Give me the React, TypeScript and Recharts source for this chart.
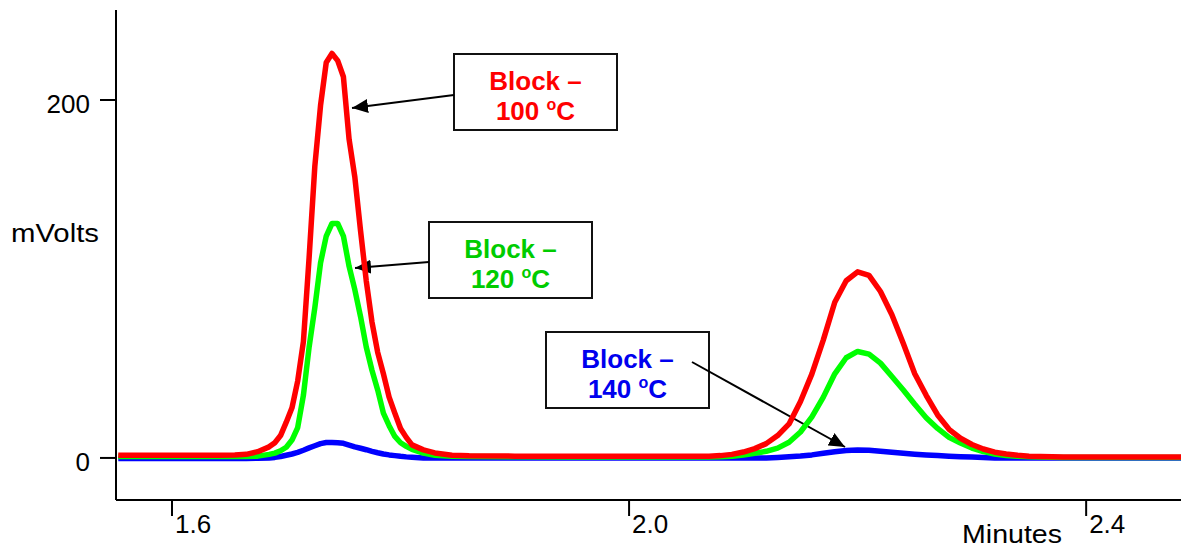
import React from "react";
import { LineChart, Line, XAxis, YAxis, Customized } from "recharts";

// retention time (minutes)
const times = [
  1.553, 1.58, 1.61, 1.64, 1.655, 1.665, 1.675, 1.685, 1.69, 1.695, 1.7, 1.705,
  1.71, 1.715, 1.72, 1.725, 1.73, 1.735, 1.74, 1.745, 1.75, 1.755, 1.76, 1.765,
  1.77, 1.775, 1.78, 1.785, 1.79, 1.795, 1.8, 1.805, 1.81, 1.82, 1.83, 1.845,
  1.86, 1.9, 1.95, 2.0, 2.04, 2.07, 2.08, 2.09, 2.1, 2.11, 2.12, 2.13, 2.14,
  2.15, 2.16, 2.17, 2.18, 2.19, 2.2, 2.21, 2.22, 2.23, 2.24, 2.25, 2.26, 2.27,
  2.28, 2.29, 2.3, 2.31, 2.32, 2.33, 2.34, 2.35, 2.36, 2.38, 2.42, 2.46, 2.483,
];

// Block – 100 ºC
const block100 = [
  1.5, 1.5, 1.5, 1.5, 1.6, 2, 3.5, 6.2, 8.5, 12.5, 20, 28,
  43, 65, 112, 163, 197, 221, 226, 222, 213, 178, 157, 127,
  99, 76, 59, 47, 34, 25, 16.5, 11.5, 7.3, 4.5, 2.8, 1.5,
  1.2, 1, 0.9, 0.9, 0.9, 1, 1.3, 2, 3.3, 5.2, 8, 12.5, 19,
  31.5, 47, 66, 87, 99, 104, 102, 93, 80, 64, 47, 35, 24,
  16, 11, 7.5, 5, 3.2, 2.2, 1.5, 1, 0.8, 0.5, 0.5, 0.5, 0.5,
];

// Block – 120 ºC
const block120 = [
  0.8, 0.8, 0.8, 0.8, 0.8, 0.8, 1, 2, 2.7, 4, 6, 10,
  17, 35, 62, 84, 109, 124, 131, 131, 124, 107, 94, 79,
  62, 49, 38, 25, 18, 12, 8.5, 6.5, 4.8, 2.7, 1.5, 1,
  0.8, 0.6, 0.5, 0.5, 0.5, 0.5, 0.6, 0.9, 1.6, 2.6, 3.7, 5.5, 8.8,
  14.5, 23, 34, 47, 56, 59.5, 58, 53, 45.5, 38, 30, 22.5, 16.5,
  11.5, 8.3, 5.5, 3.5, 2.2, 1.4, 0.9, 0.6, 0.5, 0.3, 0.3, 0.3, 0.3,
];

// Block – 140 ºC
const block140 = [
  -0.3, -0.3, -0.3, -0.3, -0.3, -0.3, -0.2, 0, 0.3, 0.8, 1.5, 2.2,
  3.1, 4.3, 5.6, 6.8, 8, 8.6, 8.6, 8.5, 8.2, 7.2, 6.2, 5.4,
  4.6, 3.7, 2.9, 2.2, 1.7, 1.3, 0.9, 0.6, 0.4, 0, 0, 0,
  0, 0, 0, 0, 0, 0, 0, 0, 0, 0, 0, 0.3, 0.7,
  1.1, 1.7, 2.6, 3.5, 4.1, 4.5, 4.3, 3.8, 3.2, 2.6, 2.1, 1.7, 1.3,
  1, 0.7, 0.5, 0.3, 0, 0, 0, 0, 0, 0, 0, 0, 0,
];

const xTicks = [1.6, 2.0, 2.4];
const yTicks = [0, 200];

const rows = times.map((t, i) => ({
  t,
  b100: block100[i],
  b120: block120[i],
  b140: block140[i],
}));

const FONT = "Arial, 'Liberation Sans', sans-serif";

const XTick = (props: any) => {
  const { x, y, payload } = props;
  return (
    <text x={x + 3} y={y + 15} fontFamily={FONT} fontSize={26} fill="#000">
      {payload.value.toFixed(1)}
    </text>
  );
};

const YTick = (props: any) => {
  const { x, y, payload } = props;
  return (
    <text x={x - 8} y={y + 13} fontFamily={FONT} fontSize={26} fill="#000" textAnchor="end">
      {payload.value}
    </text>
  );
};

const Box = ({ x, y, temp, color }: { x: number; y: number; temp: string; color: string }) => {
  const cx = x + 81.5;
  return (
    <g>
      <rect x={x} y={y} width={163} height={76} fill="#fff" stroke="#111" strokeWidth={2} />
      <text x={cx} y={y + 36} textAnchor="middle" fontFamily={FONT} fontWeight="bold" fontSize={26} fill={color}>
        Block –
      </text>
      <text x={cx} y={y + 66} textAnchor="middle" fontFamily={FONT} fontWeight="bold" fontSize={26} fill={color}>
        <tspan>{temp} </tspan>
        <tspan fontSize={16} dy={-10}>o</tspan>
        <tspan dy={10}>C</tspan>
      </text>
    </g>
  );
};

const Annotations = () => (
  <g>
    <defs>
      <marker id="head" markerUnits="userSpaceOnUse" markerWidth={16} markerHeight={14} refX={16} refY={7} orient="auto">
        <path d="M0,0 L16,7 L0,14 z" fill="#000" />
      </marker>
    </defs>
    <text x={11} y={242} fontFamily={FONT} fontSize={25} fill="#000" textLength={88} lengthAdjust="spacingAndGlyphs">
      mVolts
    </text>
    <text x={962} y={543} fontFamily={FONT} fontSize={25} fill="#000" textLength={100} lengthAdjust="spacingAndGlyphs">
      Minutes
    </text>
    <Box x={454} y={54} temp="100" color="#ff0000" />
    <Box x={429} y={222} temp="120" color="#00cc00" />
    <Box x={546} y={332} temp="140" color="#0000ee" />
    <line x1={454} y1={95} x2={352} y2={108} stroke="#000" strokeWidth={2} markerEnd="url(#head)" />
    <line x1={429} y1={262} x2={355} y2={268} stroke="#000" strokeWidth={2} markerEnd="url(#head)" />
    <line x1={692} y1={362} x2={845} y2={447} stroke="#000" strokeWidth={2} markerEnd="url(#head)" />
  </g>
);

export default function App() {
  return (
    <div style={{ position: "absolute", left: 0, top: 0, background: "#fff" }}>
      <LineChart width={1181} height={547} data={rows} margin={{ top: 10, right: 0, bottom: 0, left: 0 }}>
        <XAxis
          dataKey="t"
          type="number"
          domain={[1.551, 2.483]}
          allowDataOverflow
          ticks={xTicks}
          tickSize={16}
          height={47}
          axisLine={{ stroke: "#000", strokeWidth: 2 }}
          tickLine={{ stroke: "#000", strokeWidth: 2 }}
          tick={XTick}
          interval={0}
        />
        <YAxis
          type="number"
          domain={[-23.5, 250.3]}
          allowDataOverflow
          ticks={yTicks}
          tickSize={16}
          width={116}
          axisLine={{ stroke: "#000", strokeWidth: 2 }}
          tickLine={{ stroke: "#000", strokeWidth: 2 }}
          tick={YTick}
          interval={0}
        />
        <Line dataKey="b140" type="linear" stroke="#0000ff" strokeWidth={5.5} dot={false} isAnimationActive={false} strokeLinejoin="round" />
        <Line dataKey="b120" type="linear" stroke="#00ff00" strokeWidth={5.5} dot={false} isAnimationActive={false} strokeLinejoin="round" />
        <Line dataKey="b100" type="linear" stroke="#ff0000" strokeWidth={5.5} dot={false} isAnimationActive={false} strokeLinejoin="round" />
        <Customized component={Annotations} />
      </LineChart>
    </div>
  );
}
